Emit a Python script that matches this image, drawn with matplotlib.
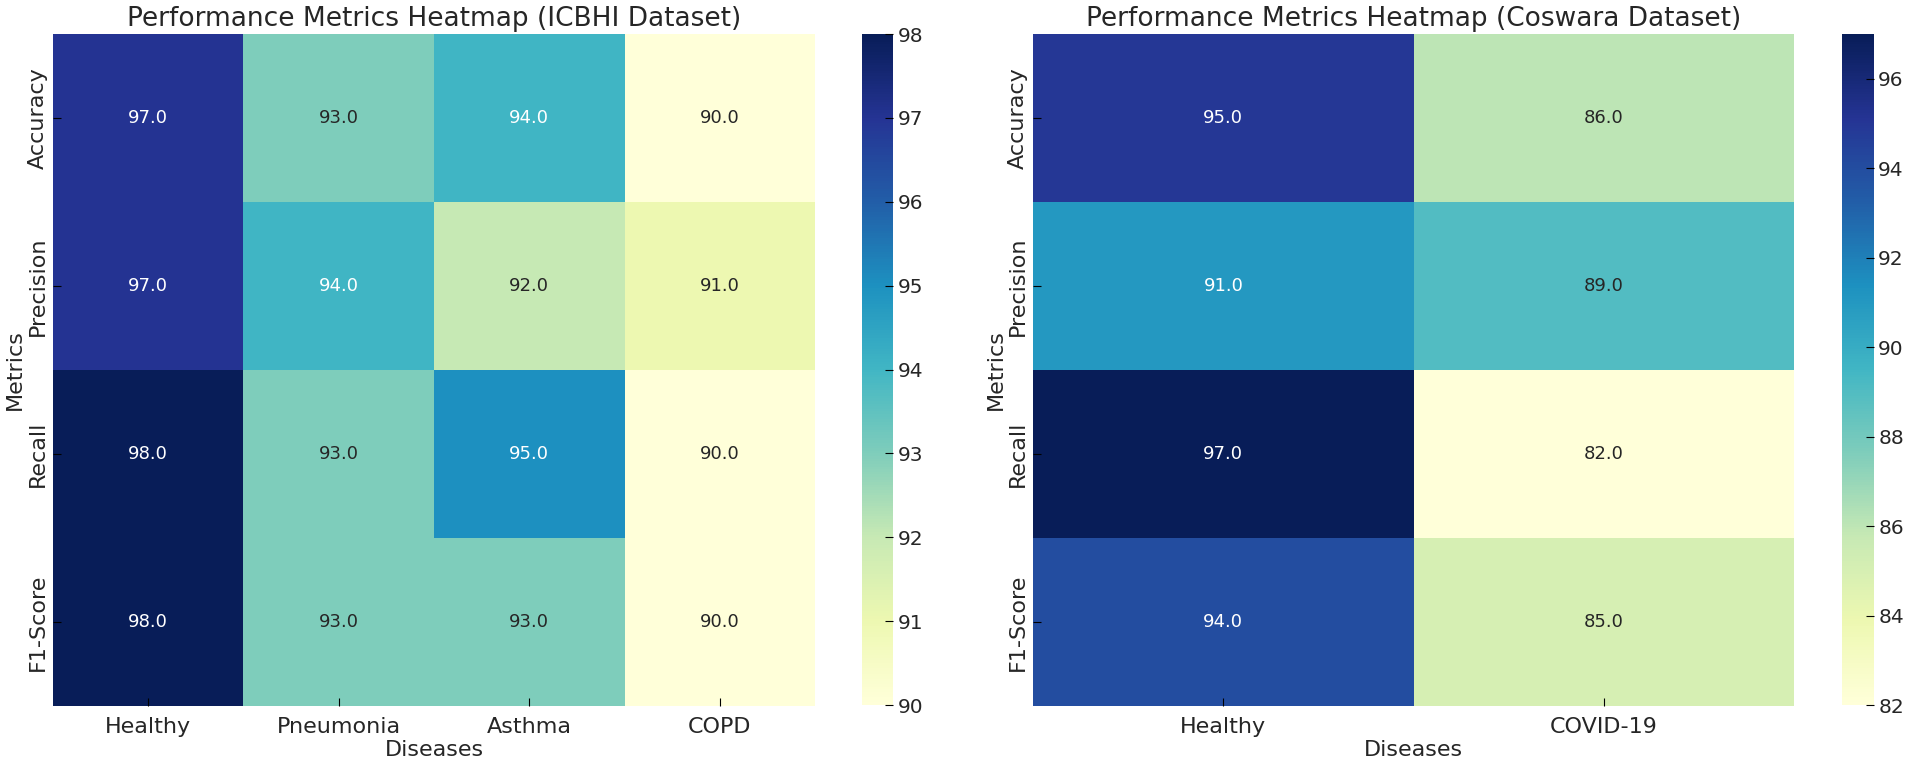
import numpy as np
import pandas as pd
import matplotlib
matplotlib.use("Agg")
import matplotlib.pyplot as plt
import seaborn as sns

# 指標與疾病類別
metrics = ["Accuracy", "Precision", "Recall", "F1-Score"]

icbhi_diseases = ["Healthy", "Pneumonia", "Asthma", "COPD"]
icbhi_accuracy = [97, 93, 94, 90]
icbhi_precision = [97, 94, 92, 91]
icbhi_recall = [98, 93, 95, 90]
icbhi_f1 = [98, 93, 93, 90]

coswara_diseases = ["Healthy", "COVID-19"]
coswara_accuracy = [95, 86]
coswara_precision = [91, 89]
coswara_recall = [97, 82]
coswara_f1 = [94, 85]

plt.rcParams["xtick.direction"] = "in"
plt.rcParams["ytick.direction"] = "in"
plt.rcParams["xtick.major.size"] = 5
plt.rcParams["ytick.major.size"] = 5
plt.rcParams["text.color"] = "#262626"
plt.rcParams["axes.labelcolor"] = "#262626"
plt.rcParams["xtick.labelcolor"] = "#262626"
plt.rcParams["ytick.labelcolor"] = "#262626"


def make_df(rows, diseases):
    return pd.DataFrame(rows, index=metrics, columns=diseases, dtype=float)


df_icbhi = make_df([icbhi_accuracy, icbhi_precision, icbhi_recall, icbhi_f1], icbhi_diseases)
df_coswara = make_df([coswara_accuracy, coswara_precision, coswara_recall, coswara_f1], coswara_diseases)

fig = plt.figure(figsize=(19.06, 7.59), dpi=100)

# 版面位置 (像素換算)
ax1 = fig.add_axes([0.0278, 0.0698, 0.3998, 0.8854])
cax1 = fig.add_axes([0.4523, 0.0711, 0.0163, 0.8841])
ax2 = fig.add_axes([0.5420, 0.0698, 0.3993, 0.8854])
cax2 = fig.add_axes([0.9664, 0.0711, 0.0168, 0.8841])


def draw(ax, cax, df, title):
    sns.heatmap(df, ax=ax, cbar_ax=cax, annot=True, fmt=".1f", cmap="YlGnBu",
                annot_kws={"fontsize": 13})
    ax.set_title(title, fontsize=19, pad=6)
    ax.set_xlabel("Diseases", fontsize=16, labelpad=2)
    ax.set_ylabel("Metrics", fontsize=16, labelpad=2)
    ax.tick_params(axis="both", labelsize=16, length=6)
    ax.tick_params(axis="x", pad=8)
    ax.set_yticklabels(ax.get_yticklabels(), rotation=90, va="center")
    cax.tick_params(labelsize=14.5, length=6, direction="in", pad=3)


draw(ax1, cax1, df_icbhi, "Performance Metrics Heatmap (ICBHI Dataset)")
draw(ax2, cax2, df_coswara, "Performance Metrics Heatmap (Coswara Dataset)")

fig.savefig("out.png", dpi=100)
